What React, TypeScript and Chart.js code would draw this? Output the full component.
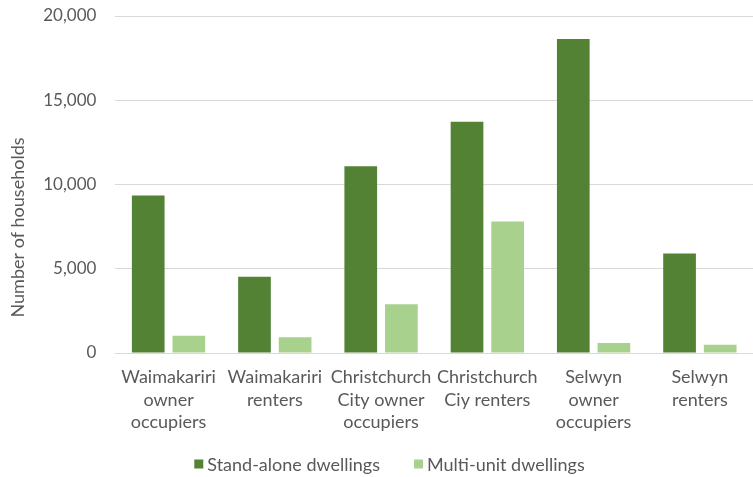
import React, { useEffect, useRef } from "react";
import { Chart, registerables } from "chart.js";

Chart.register(...registerables);

const categories: string[][] = [
  ["Waimakariri", "owner", "occupiers"],
  ["Waimakariri", "renters"],
  ["Christchurch", "City owner", "occupiers"],
  ["Christchurch", "Ciy renters"],
  ["Selwyn", "owner", "occupiers"],
  ["Selwyn", "renters"],
];
const seriesNames = ["Stand-alone dwellings", "Multi-unit dwellings"];
const standAlone = [9350, 4530, 11090, 13720, 18630, 5900];
const multiUnit = [1030, 930, 2890, 7800, 590, 490];
const yMax = 20000;
const yStep = 5000;
const yTitle = "Number of households";

const FONT = "Lato";
const TEXT = "#595959";
const GRID = "#d9d9d9";
const COLORS = ["#548235", "#A9D18E"];

const customLegend = {
  id: "customLegend",
  afterDraw(chart: any) {
    const ctx = chart.ctx as CanvasRenderingContext2D;
    ctx.save();
    ctx.font = `18px ${FONT}`;
    ctx.textBaseline = "middle";
    ctx.textAlign = "left";
    const box = 9;
    const gapBox = 4;
    const gapItems = 34;
    const items = chart.data.datasets.map((ds: any) => ({
      text: ds.label as string,
      color: ds.backgroundColor as string,
    }));
    const widths = items.map((it: any) => box + gapBox + ctx.measureText(it.text).width);
    const total = widths.reduce((a: number, b: number) => a + b, 0) + gapItems * (items.length - 1);
    let x = 389.5 - total / 2;
    const y = 464;
    items.forEach((it: any, i: number) => {
      ctx.fillStyle = it.color;
      ctx.fillRect(x, y - box / 2, box, box);
      ctx.fillStyle = TEXT;
      ctx.fillText(it.text, x + box + gapBox, y + 1);
      x += widths[i] + gapItems;
    });
    // y-axis title
    ctx.save();
    ctx.translate(18.5, 227.5);
    ctx.rotate(-Math.PI / 2);
    ctx.textAlign = "center";
    ctx.textBaseline = "middle";
    ctx.font = `18px ${FONT}`;
    ctx.fillStyle = TEXT;
    ctx.fillText(yTitle, 0, 0);
    ctx.restore();
    ctx.restore();
  },
};

export default function App() {
  const ref = useRef<HTMLCanvasElement | null>(null);
  useEffect(() => {
    document.body.style.margin = "0";
    const canvas = ref.current;
    if (!canvas) return;
    const chart = new Chart(canvas, {
      type: "bar",
      data: {
        labels: categories,
        datasets: [
          {
            label: seriesNames[0],
            data: standAlone,
            backgroundColor: COLORS[0],
            categoryPercentage: 0.7645,
            barPercentage: 0.805,
          },
          {
            label: seriesNames[1],
            data: multiUnit,
            backgroundColor: COLORS[1],
            categoryPercentage: 0.7645,
            barPercentage: 0.805,
          },
        ],
      },
      options: {
        responsive: false,
        animation: false,
        devicePixelRatio: 1,
        layout: { padding: { top: 16, right: -6, bottom: 28, left: 0 } },
        plugins: {
          legend: { display: false },
          tooltip: { enabled: false },
          title: { display: false },
        },
        scales: {
          x: {
            grid: { display: false, drawTicks: false },
            border: { display: true, color: GRID, width: 1 },
            ticks: {
              color: TEXT,
              font: { family: FONT, size: 18, lineHeight: 1.25 },
              padding: 13,
              maxRotation: 0,
              minRotation: 0,
              autoSkip: false,
            },
            afterFit(scale: any) {
              scale.height = 96;
              scale.paddingLeft = 0;
              scale.paddingRight = 0;
            },
          },
          y: {
            min: 0,
            max: yMax,
            grid: { color: GRID, lineWidth: 1, drawTicks: false },
            border: { display: false },
            ticks: {
              stepSize: yStep,
              color: TEXT,
              font: { family: FONT, size: 17 },
              padding: 19,
              callback: (v: any) => Number(v).toLocaleString("en-US"),
            },
            title: { display: false },
            afterFit(scale: any) {
              scale.width = 115.4;
              scale.paddingTop = 0;
              scale.paddingBottom = 0;
            },
          },
        },
      },
      plugins: [customLegend],
    });
    return () => chart.destroy();
  }, []);
  return (
    <div style={{ width: 753, height: 477 }}>
      <canvas ref={ref} width={753} height={477} style={{ display: "block" }} />
    </div>
  );
}
